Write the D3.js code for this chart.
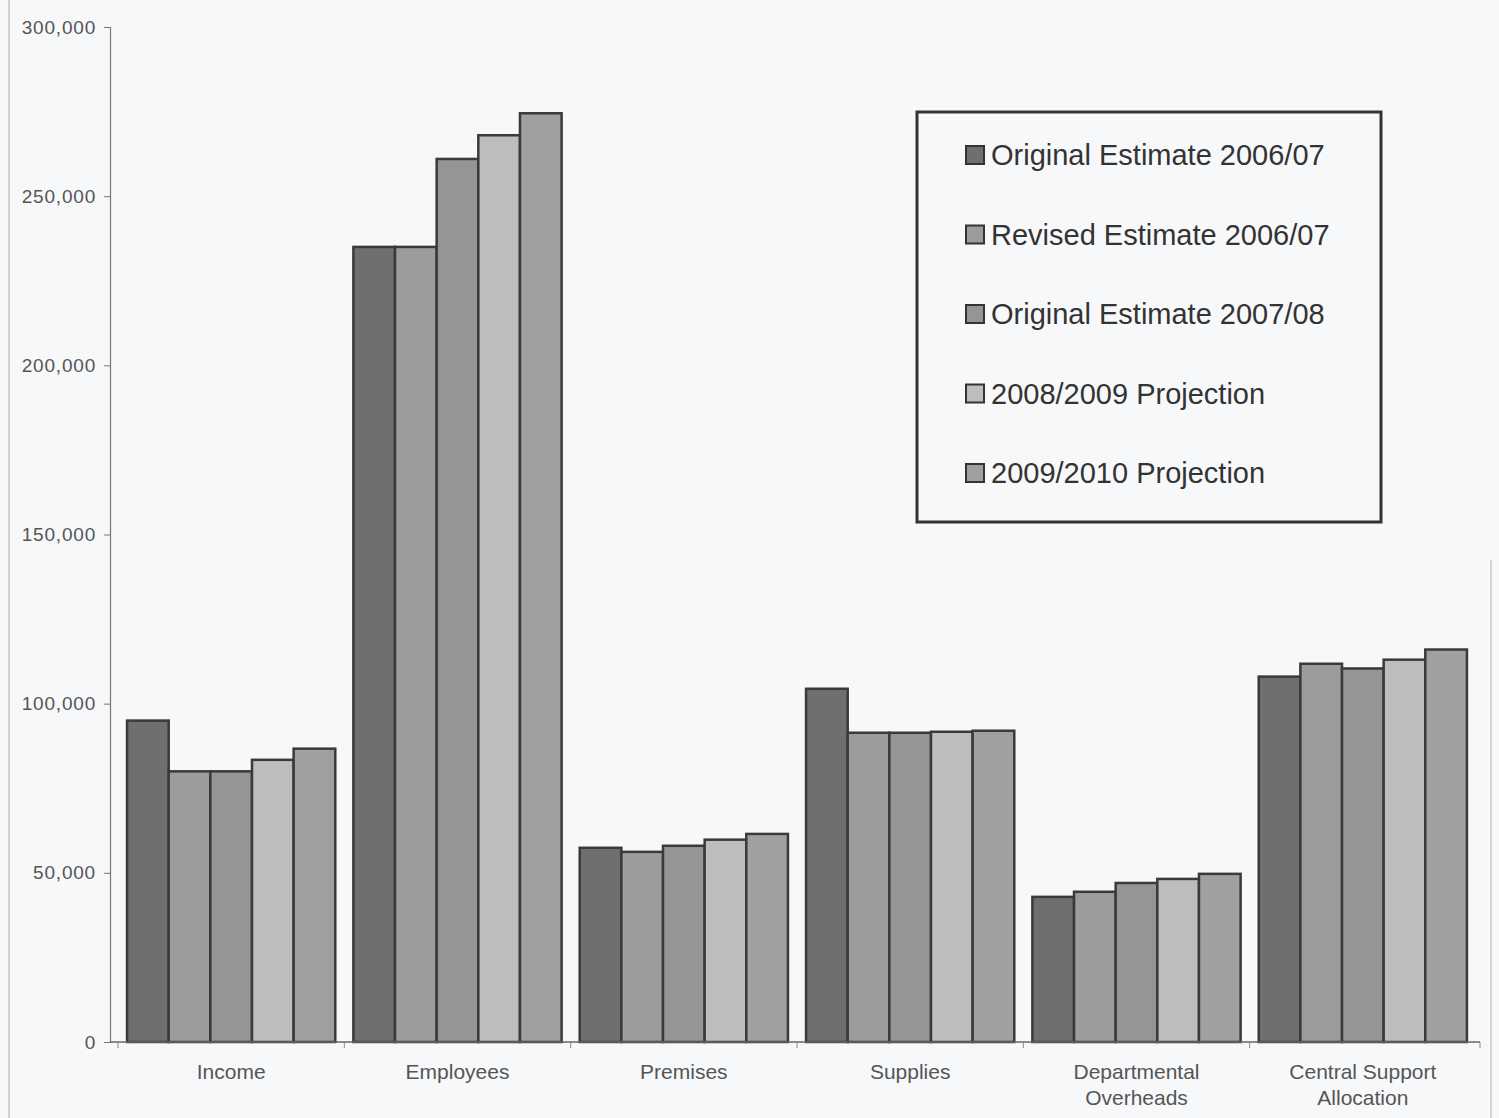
<!DOCTYPE html>
<html>
<head>
<meta charset="utf-8">
<script src="https://cdn.jsdelivr.net/npm/d3@7"></script>
<style>
  body { margin: 0; background: #f7f8fa; }
  svg { display: block; }
</style>
</head>
<body>
<script>
/*--- data ---*/
let categorias = [["Income"], ["Employees"], ["Premises"], ["Supplies"], ["Departmental", "Overheads"], ["Central Support", "Allocation"]];
let series = ["Original Estimate 2006/07", "Revised Estimate 2006/07", "Original Estimate 2007/08", "2008/2009 Projection", "2009/2010 Projection"];
let orig0607 = [95000, 235000, 57400, 104400, 42900, 108000];
let rev0607 = [80000, 235000, 56200, 91400, 44400, 111800];
let orig0708 = [80000, 261000, 58000, 91400, 47000, 110400];
let proj0809 = [83400, 268000, 59800, 91700, 48200, 113000];
let proj0910 = [86700, 274500, 61500, 92000, 49700, 116000];
let yTicks = [0, 50000, 100000, 150000, 200000, 250000, 300000];

let valores = [orig0607, rev0607, orig0708, proj0809, proj0910];
let colores = ["#6f6f6f", "#9c9c9c", "#959595", "#bdbdbd", "#a0a0a0"];

/*--- svg space ---*/
let width = 1499;
let height = 1118;
let margin = {top: 27, right: 20, bottom: 76, left: 118};

let svg = d3.select("body").append("svg")
    .attr("width", width)
    .attr("height", height);

// bordes del escaneo
svg.append("line").attr("x1", 9).attr("x2", 9).attr("y1", 0).attr("y2", height)
    .attr("stroke", "#c4c4c4").attr("stroke-width", 1.5);
svg.append("line").attr("x1", 1491).attr("x2", 1491).attr("y1", 560).attr("y2", height)
    .attr("stroke", "#c8c8c8").attr("stroke-width", 1.5);

let X = d3.scaleBand()
    .domain(categorias.map(function(d, i) { return i; }))
    .range([margin.left, 1476])
    .paddingInner(0.08)
    .paddingOuter(0.04);

let XS = d3.scaleBand()
    .domain(series.map(function(d, i) { return i; }))
    .range([0, X.bandwidth()]);

let Y = d3.scaleLinear().domain([0, 300000]).range([height - margin.bottom, margin.top]);

// ejes
let yEje = d3.axisLeft(Y).tickValues(yTicks).tickSize(6).tickPadding(8)
    .tickFormat(d3.format(","));

let gy = svg.append("g")
    .attr("transform", "translate(" + (margin.left - 8) + ",0)")
    .call(yEje);
gy.select(".domain").attr("stroke", "#777").attr("stroke-width", 1.2);
gy.selectAll(".tick line").attr("stroke", "#777");
gy.selectAll("text")
    .attr("fill", "#555")
    .style("font-family", "Liberation Sans, Arial, sans-serif")
    .style("font-size", "19px")
    .style("letter-spacing", "0.8px");

// barras
let grupos = svg.append("g").selectAll("g")
    .data(categorias)
    .join("g")
    .attr("transform", function(d, i) { return "translate(" + X(i) + ",0)"; });

grupos.selectAll("rect")
    .data(function(d, i) { return valores.map(function(s, j) { return {serie: j, valor: s[i]}; }); })
    .join("rect")
    .attr("x", function(d) { return XS(d.serie); })
    .attr("y", function(d) { return Y(d.valor); })
    .attr("width", XS.bandwidth())
    .attr("height", function(d) { return Y(0) - Y(d.valor); })
    .attr("fill", function(d) { return colores[d.serie]; })
    .attr("stroke", "#3a3a3a")
    .attr("stroke-width", 2.5);

// eje x
let base = Y(0);
svg.append("line")
    .attr("x1", margin.left - 8).attr("x2", 1480)
    .attr("y1", base).attr("y2", base)
    .attr("stroke", "#666").attr("stroke-width", 1.5);

let separadores = d3.range(categorias.length + 1).map(function(i) {
    return i < categorias.length ? X(i) - X.step() * X.paddingInner() / 2 : 1480;
});
svg.append("g").selectAll("line")
    .data(separadores)
    .join("line")
    .attr("x1", function(d) { return d; }).attr("x2", function(d) { return d; })
    .attr("y1", base).attr("y2", base + 6)
    .attr("stroke", "#888");

svg.append("g").selectAll("text")
    .data(categorias)
    .join("text")
    .attr("x", function(d, i) { return X(i) + X.bandwidth() / 2; })
    .attr("y", base + 37)
    .attr("text-anchor", "middle")
    .attr("fill", "#555")
    .style("font-family", "Liberation Sans, Arial, sans-serif")
    .style("font-size", "21px")
    .selectAll("tspan")
    .data(function(d) { return d; })
    .join("tspan")
    .attr("x", function() { return this.parentNode.getAttribute("x"); })
    .attr("dy", function(d, i) { return i === 0 ? 0 : 26; })
    .text(function(d) { return d; });

// leyenda
let leyenda = svg.append("g").attr("transform", "translate(917,112)");
leyenda.append("rect")
    .attr("width", 464).attr("height", 410)
    .attr("fill", "none")
    .attr("stroke", "#333")
    .attr("stroke-width", 3);

let items = leyenda.selectAll("g.item")
    .data(series)
    .join("g")
    .attr("class", "item")
    .attr("transform", function(d, i) { return "translate(49," + (43 + i * 79.5) + ")"; });

items.append("rect")
    .attr("x", 0).attr("y", -9)
    .attr("width", 18).attr("height", 18)
    .attr("fill", function(d, i) { return colores[i]; })
    .attr("stroke", "#333")
    .attr("stroke-width", 2);

items.append("text")
    .attr("x", 25)
    .attr("y", 0)
    .attr("dy", "0.36em")
    .attr("fill", "#333")
    .style("font-family", "Liberation Sans, Arial, sans-serif")
    .style("font-size", "29px")
    .text(function(d) { return d; });
</script>
</body>
</html>
